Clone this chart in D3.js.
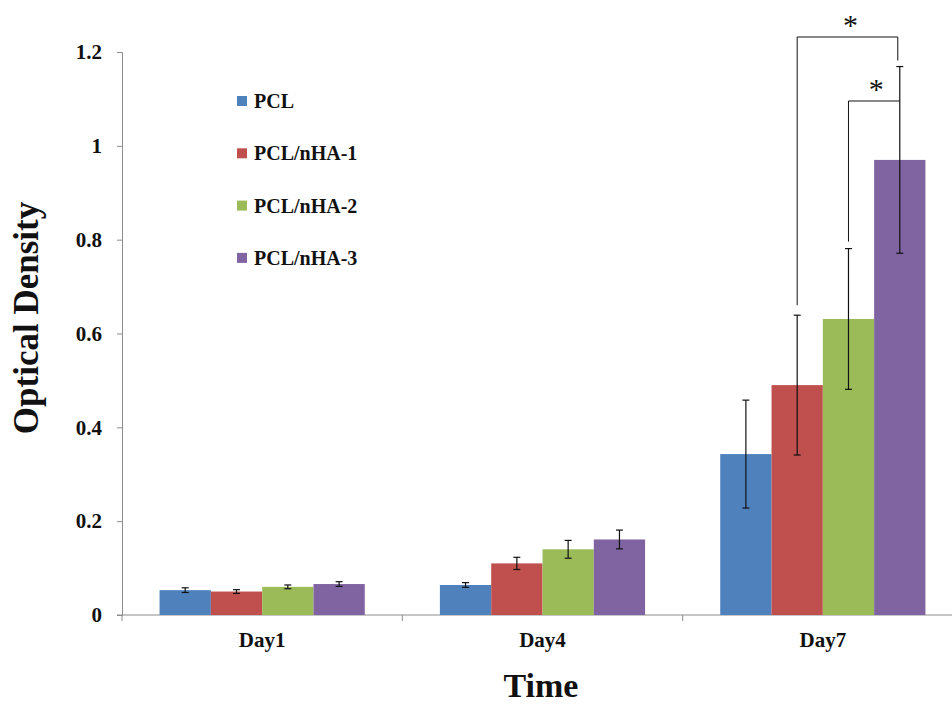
<!DOCTYPE html>
<html>
<head>
<meta charset="utf-8">
<script src="https://cdn.jsdelivr.net/npm/d3@7"></script>
<style>
  html, body { margin: 0; padding: 0; background: #fff; }
  svg text { font-family: "Liberation Serif", "Times New Roman", serif; font-weight: bold; fill: #111; }
</style>
</head>
<body>
<svg id="chart" width="952" height="707"></svg>
<script>
// Cell proliferation (optical density) by scaffold type and day
const days = ["Day1", "Day4", "Day7"];
const groups = ["PCL", "PCL/nHA-1", "PCL/nHA-2", "PCL/nHA-3"];
const colors = ["#4F81BD", "#C0504D", "#9BBB59", "#8064A2"];

const pcl   = [0.053, 0.064, 0.343];
const nha1  = [0.050, 0.110, 0.490];
const nha2  = [0.060, 0.140, 0.631];
const nha3  = [0.066, 0.161, 0.970];

const pclErr  = [0.005, 0.005, 0.115];
const nha1Err = [0.004, 0.013, 0.149];
const nha2Err = [0.004, 0.019, 0.150];
const nha3Err = [0.005, 0.020, 0.199];

const yTicks = [0, 0.2, 0.4, 0.6, 0.8, 1, 1.2];
const yTickLabels = ["0", "0.2", "0.4", "0.6", "0.8", "1", "1.2"];

const values = [pcl, nha1, nha2, nha3];
const errors = [pclErr, nha1Err, nha2Err, nha3Err];

const svg = d3.select("#chart");
const margin = { left: 122, right: -11, top: 52, bottom: 92 };
const W = 952, H = 707;

const x0 = d3.scaleBand().domain(days).range([margin.left, W - margin.right]).paddingInner(0).paddingOuter(0);
const x1 = d3.scaleBand().domain(groups).range([x0.bandwidth() * 0.134, x0.bandwidth() * 0.866]).padding(0);
const y = d3.scaleLinear().domain([0, 1.2]).range([H - margin.bottom, margin.top]);

// Y axis
const yAxis = d3.axisLeft(y).tickValues(yTicks)
  .tickFormat((d, i) => yTickLabels[i]).tickSize(5).tickPadding(15);
const gy = svg.append("g").attr("transform", `translate(${margin.left},0)`).call(yAxis);
gy.select(".domain").attr("stroke", "#8c8c8c");
gy.selectAll(".tick line").attr("stroke", "#8c8c8c");
gy.selectAll(".tick text").style("font-size", "21px").attr("fill", "#111");

// X axis: baseline with ticks at category boundaries
const gx = svg.append("g");
gx.append("line")
  .attr("x1", margin.left - 5).attr("x2", W)
  .attr("y1", y(0)).attr("y2", y(0))
  .attr("stroke", "#8c8c8c");
const bounds = days.map(d => x0(d)).concat([x0(days[days.length - 1]) + x0.bandwidth()]);
gx.selectAll("line.bt").data(bounds).join("line")
  .attr("class", "bt")
  .attr("x1", d => d).attr("x2", d => d)
  .attr("y1", y(0)).attr("y2", y(0) + 6)
  .attr("stroke", "#8c8c8c");
gx.selectAll("text.cat").data(days).join("text")
  .attr("class", "cat")
  .attr("x", d => x0(d) + x0.bandwidth() / 2)
  .attr("y", y(0) + 32)
  .attr("text-anchor", "middle")
  .style("font-size", "21px")
  .text(d => d);

// Bars and error bars
const flat = [];
groups.forEach((g, gi) => {
  days.forEach((d, di) => {
    flat.push({ day: d, group: g, gi, v: values[gi][di], e: errors[gi][di] });
  });
});

svg.append("g").selectAll("rect").data(flat).join("rect")
  .attr("x", d => x0(d.day) + x1(d.group))
  .attr("width", x1.bandwidth())
  .attr("y", d => y(d.v))
  .attr("height", d => y(0) - y(d.v))
  .attr("fill", d => colors[d.gi]);

const cap = 3.5;
const eg = svg.append("g").attr("stroke", "#111").attr("stroke-width", 1.2);
flat.forEach(d => {
  const cx = x0(d.day) + x1(d.group) + x1.bandwidth() / 2;
  const y1 = y(d.v + d.e), y2 = y(d.v - d.e);
  eg.append("line").attr("x1", cx).attr("x2", cx).attr("y1", y1).attr("y2", y2);
  eg.append("line").attr("x1", cx - cap).attr("x2", cx + cap).attr("y1", y1).attr("y2", y1);
  eg.append("line").attr("x1", cx - cap).attr("x2", cx + cap).attr("y1", y2).attr("y2", y2);
});

// Significance brackets on Day7
const day = "Day7", di = 2;
const cxOf = g => x0(day) + x1(g) + x1.bandwidth() / 2;
const topOf = gi => y(values[gi][di] + errors[gi][di]);
const bg = svg.append("g").attr("stroke", "#111").attr("stroke-width", 1).attr("fill", "none");

// PCL/nHA-1 vs PCL/nHA-3
const outerY = 37;
bg.append("path").attr("d",
  `M${cxOf(groups[1])},${topOf(1) - 10} V${outerY} H${cxOf(groups[3]) - 2} V${topOf(3) - 6}`);
svg.append("text").attr("x", (cxOf(groups[1]) + cxOf(groups[3])) / 2 + 2).attr("y", outerY - 2)
  .attr("text-anchor", "middle").style("font-size", "30px").style("font-weight", "normal").text("*");

// PCL/nHA-2 vs PCL/nHA-3
const innerY = 101;
bg.append("path").attr("d",
  `M${cxOf(groups[2])},${topOf(2) - 7} V${innerY} H${cxOf(groups[3])}`);
svg.append("text").attr("x", (cxOf(groups[2]) + cxOf(groups[3])) / 2 + 2).attr("y", innerY - 2)
  .attr("text-anchor", "middle").style("font-size", "30px").style("font-weight", "normal").text("*");

// Legend
const lg = svg.append("g").attr("transform", "translate(237,101)");
groups.forEach((g, i) => {
  const row = lg.append("g").attr("transform", `translate(0,${i * 52.3})`);
  row.append("rect").attr("x", 0).attr("y", -5).attr("width", 10).attr("height", 10).attr("fill", colors[i]);
  row.append("text").attr("x", 17).attr("y", 7).style("font-size", "20px").text(g);
});

// Axis titles
svg.append("text")
  .attr("transform", "translate(38,318) rotate(-90)")
  .attr("text-anchor", "middle")
  .style("font-size", "35px")
  .text("Optical Density");
svg.append("text")
  .attr("x", 541).attr("y", 697)
  .attr("text-anchor", "middle")
  .style("font-size", "34px")
  .text("Time");
</script>
</body>
</html>
